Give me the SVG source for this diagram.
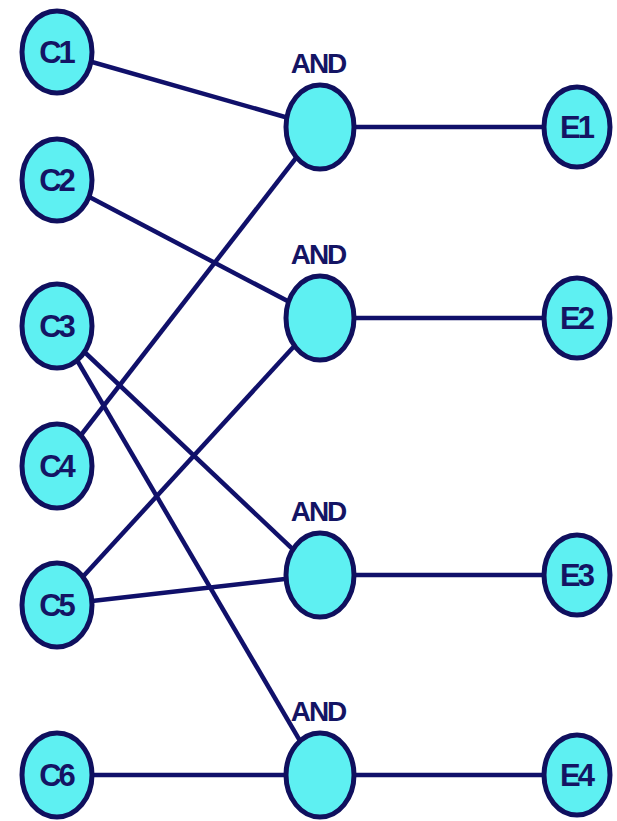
<svg xmlns="http://www.w3.org/2000/svg" width="617" height="821" viewBox="0 0 617 821">
<style>
.n{fill:#5ef0f2;stroke:#10105e;stroke-width:5}
.t{font-family:"Liberation Sans",Arial,sans-serif;font-weight:bold;font-size:31px;fill:#141464;text-anchor:middle;letter-spacing:-3px}
.a{font-family:"Liberation Sans",Arial,sans-serif;font-weight:bold;font-size:28px;fill:#141464;text-anchor:middle;letter-spacing:-2px}
.c line{stroke:#10106a;stroke-width:4.5}
</style>
<rect width="617" height="821" fill="#fff"/>
<g class="c" id="connectors">
<line x1="57" y1="52" x2="320" y2="127"/>
<line x1="57" y1="180" x2="320" y2="318"/>
<line x1="57" y1="326" x2="320" y2="575"/>
<line x1="57" y1="326" x2="320" y2="775"/>
<line x1="57" y1="466" x2="320" y2="127"/>
<line x1="57" y1="605" x2="320" y2="318"/>
<line x1="57" y1="605" x2="320" y2="575"/>
<line x1="57" y1="775" x2="320" y2="775"/>
<line x1="320" y1="127" x2="577" y2="127"/>
<line x1="320" y1="318" x2="577" y2="318"/>
<line x1="320" y1="575" x2="577" y2="575"/>
<line x1="320" y1="775" x2="577" y2="775"/>
</g>
<g id="C1"><ellipse class="n" cx="57" cy="52" rx="35" ry="41"/><text class="t" x="56" y="63">C1</text></g>
<g id="C2"><ellipse class="n" cx="57" cy="180" rx="35" ry="41"/><text class="t" x="56" y="191">C2</text></g>
<g id="C3"><ellipse class="n" cx="57" cy="326" rx="35" ry="42"/><text class="t" x="56" y="337">C3</text></g>
<g id="C4"><ellipse class="n" cx="57" cy="466" rx="35" ry="42"/><text class="t" x="56" y="477">C4</text></g>
<g id="C5"><ellipse class="n" cx="57" cy="605" rx="35" ry="42"/><text class="t" x="56" y="616">C5</text></g>
<g id="C6"><ellipse class="n" cx="57" cy="775" rx="35" ry="42"/><text class="t" x="56" y="786">C6</text></g>
<g id="AND1"><ellipse class="n" cx="320" cy="127" rx="34" ry="42"/><text class="a" x="318" y="73">AND</text></g>
<g id="AND2"><ellipse class="n" cx="320" cy="318" rx="34" ry="42"/><text class="a" x="318" y="264">AND</text></g>
<g id="AND3"><ellipse class="n" cx="320" cy="575" rx="34" ry="42"/><text class="a" x="318" y="521">AND</text></g>
<g id="AND4"><ellipse class="n" cx="320" cy="775" rx="34" ry="42"/><text class="a" x="318" y="721">AND</text></g>
<g id="E1"><ellipse class="n" cx="577" cy="127" rx="33" ry="40"/><text class="t" x="576" y="138">E1</text></g>
<g id="E2"><ellipse class="n" cx="577" cy="318" rx="33" ry="40"/><text class="t" x="576" y="329">E2</text></g>
<g id="E3"><ellipse class="n" cx="577" cy="575" rx="33" ry="40"/><text class="t" x="576" y="586">E3</text></g>
<g id="E4"><ellipse class="n" cx="577" cy="775" rx="33" ry="40"/><text class="t" x="576" y="786">E4</text></g>
</svg>
